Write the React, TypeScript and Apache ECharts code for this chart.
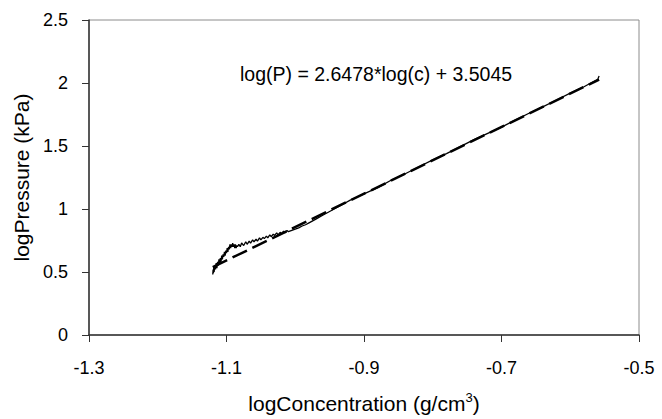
import React, { useEffect, useRef } from "react";
import * as echarts from "echarts";

const xTicks = [-1.3, -1.1, -0.9, -0.7, -0.5];
const yTicks = [0, 0.5, 1, 1.5, 2, 2.5];

const logC = [
  -1.12, -1.1195, -1.119, -1.1185, -1.118, -1.117, -1.116, -1.115, -1.114, -1.113,
  -1.112, -1.111, -1.11, -1.109, -1.108, -1.107, -1.106, -1.105, -1.104, -1.103,
  -1.102, -1.101, -1.1, -1.099, -1.098, -1.097, -1.096, -1.095, -1.094, -1.093,
  -1.092, -1.091, -1.09, -1.089, -1.088, -1.087, -1.086, -1.085, -1.084, -1.082,
  -1.08, -1.078, -1.075, -1.072, -1.07, -1.067, -1.065, -1.062, -1.06, -1.057,
  -1.055, -1.052, -1.05, -1.047, -1.045, -1.042, -1.04, -1.037, -1.035, -1.032,
  -1.03, -1.027, -1.025, -1.022, -1.02, -1.017, -1.015, -1.012, -1.01, -1.005,
  -1.0, -0.995, -0.99, -0.985, -0.98, -0.97, -0.96, -0.95, -0.94, -0.93,
  -0.92, -0.91, -0.9, -0.88, -0.86, -0.84, -0.82, -0.8, -0.78, -0.76,
  -0.74, -0.72, -0.7, -0.68, -0.66, -0.64, -0.62, -0.6, -0.58, -0.57,
  -0.56, -0.558,
];
const logP = [
  0.48, 0.52, 0.49, 0.54, 0.5, 0.55, 0.52, 0.57, 0.53, 0.58,
  0.55, 0.6, 0.57, 0.61, 0.58, 0.63, 0.6, 0.64, 0.62, 0.66,
  0.63, 0.67, 0.65, 0.69, 0.66, 0.7, 0.68, 0.72, 0.69, 0.72,
  0.7, 0.73, 0.7, 0.72, 0.69, 0.72, 0.69, 0.71, 0.7, 0.72,
  0.7, 0.73, 0.71, 0.74, 0.72, 0.745, 0.73, 0.755, 0.74, 0.76,
  0.745, 0.77, 0.755, 0.775, 0.765, 0.785, 0.77, 0.795, 0.78, 0.8,
  0.79, 0.81, 0.795, 0.815, 0.805, 0.825, 0.81, 0.83, 0.82, 0.83,
  0.84, 0.85, 0.865, 0.875, 0.89, 0.92, 0.95, 0.98, 1.01, 1.04,
  1.07, 1.095, 1.12, 1.17, 1.23, 1.28, 1.335, 1.39, 1.44, 1.495,
  1.55, 1.6, 1.65, 1.705, 1.76, 1.81, 1.865, 1.92, 1.97, 2.0,
  2.03, 2.056,
];

const slope = 2.6478;
const intercept = 3.5045;
const fitX = [-1.12, -0.558];
const equationText = "log(P) = 2.6478*log(c) + 3.5045";

export default function App() {
  const ref = useRef<HTMLDivElement>(null);
  useEffect(() => {
    if (!ref.current) return;
    const chart = echarts.init(ref.current, undefined, { renderer: "svg" });
    const font = "Liberation Sans, Arial, sans-serif";
    chart.setOption({
      animation: false,
      backgroundColor: "#ffffff",
      grid: {
        left: 89,
        right: 23,
        top: 20,
        bottom: 84,
        show: true,
        borderColor: "#8c8c8c",
        borderWidth: 1,
      },
      xAxis: {
        type: "value",
        min: -1.3,
        max: -0.5,
        interval: 0.2,
        name: "logConcentration (g/cm{sup|3})",
        nameLocation: "middle",
        nameGap: 56,
        nameTextStyle: {
          fontFamily: font,
          fontSize: 21,
          color: "#000",
          rich: {
            sup: { fontSize: 13, fontFamily: font, color: "#000", padding: [0, 0, 12, 0] },
          },
        },
        axisLine: { show: true, onZero: false, lineStyle: { color: "#333", width: 1.5 } },
        axisTick: { show: true, length: 7, inside: false, lineStyle: { color: "#333" } },
        splitLine: { show: false },
        axisLabel: {
          margin: 24,
          fontFamily: font,
          fontSize: 18,
          color: "#000",
          formatter: (v: number) => {
            const t = xTicks.find((k) => Math.abs(k - v) < 1e-6);
            return t === undefined ? "" : String(t);
          },
        },
      },
      yAxis: {
        type: "value",
        min: 0,
        max: 2.5,
        interval: 0.5,
        name: "logPressure (kPa)",
        nameLocation: "middle",
        nameGap: 52,
        nameTextStyle: { fontFamily: font, fontSize: 21, color: "#000" },
        axisLine: { show: true, onZero: false, lineStyle: { color: "#333", width: 1.5 } },
        axisTick: { show: true, length: 7, inside: false, lineStyle: { color: "#333" } },
        splitLine: { show: false },
        axisLabel: {
          margin: 21,
          fontFamily: font,
          fontSize: 18,
          color: "#000",
          formatter: (v: number) => {
            const t = yTicks.find((k) => Math.abs(k - v) < 1e-6);
            return t === undefined ? "" : String(t);
          },
        },
      },
      graphic: [
        {
          type: "text",
          left: 240,
          top: 64,
          style: { text: equationText, fontFamily: font, fontSize: 19.5, fill: "#000" },
        },
      ],
      series: [
        {
          type: "line",
          name: "data",
          data: logC.map((x, i) => [x, logP[i]]),
          showSymbol: false,
          lineStyle: { color: "#000", width: 1.3 },
          z: 2,
        },
        {
          type: "line",
          name: "fit",
          data: fitX.map((x) => [x, slope * x + intercept]),
          showSymbol: false,
          lineStyle: { color: "#000", width: 2.5, type: [16, 6] },
          z: 3,
        },
      ],
    });
    return () => chart.dispose();
  }, []);
  return (
    <div
      ref={ref}
      style={{ position: "fixed", left: 0, top: 0, width: 662, height: 419 }}
    />
  );
}
